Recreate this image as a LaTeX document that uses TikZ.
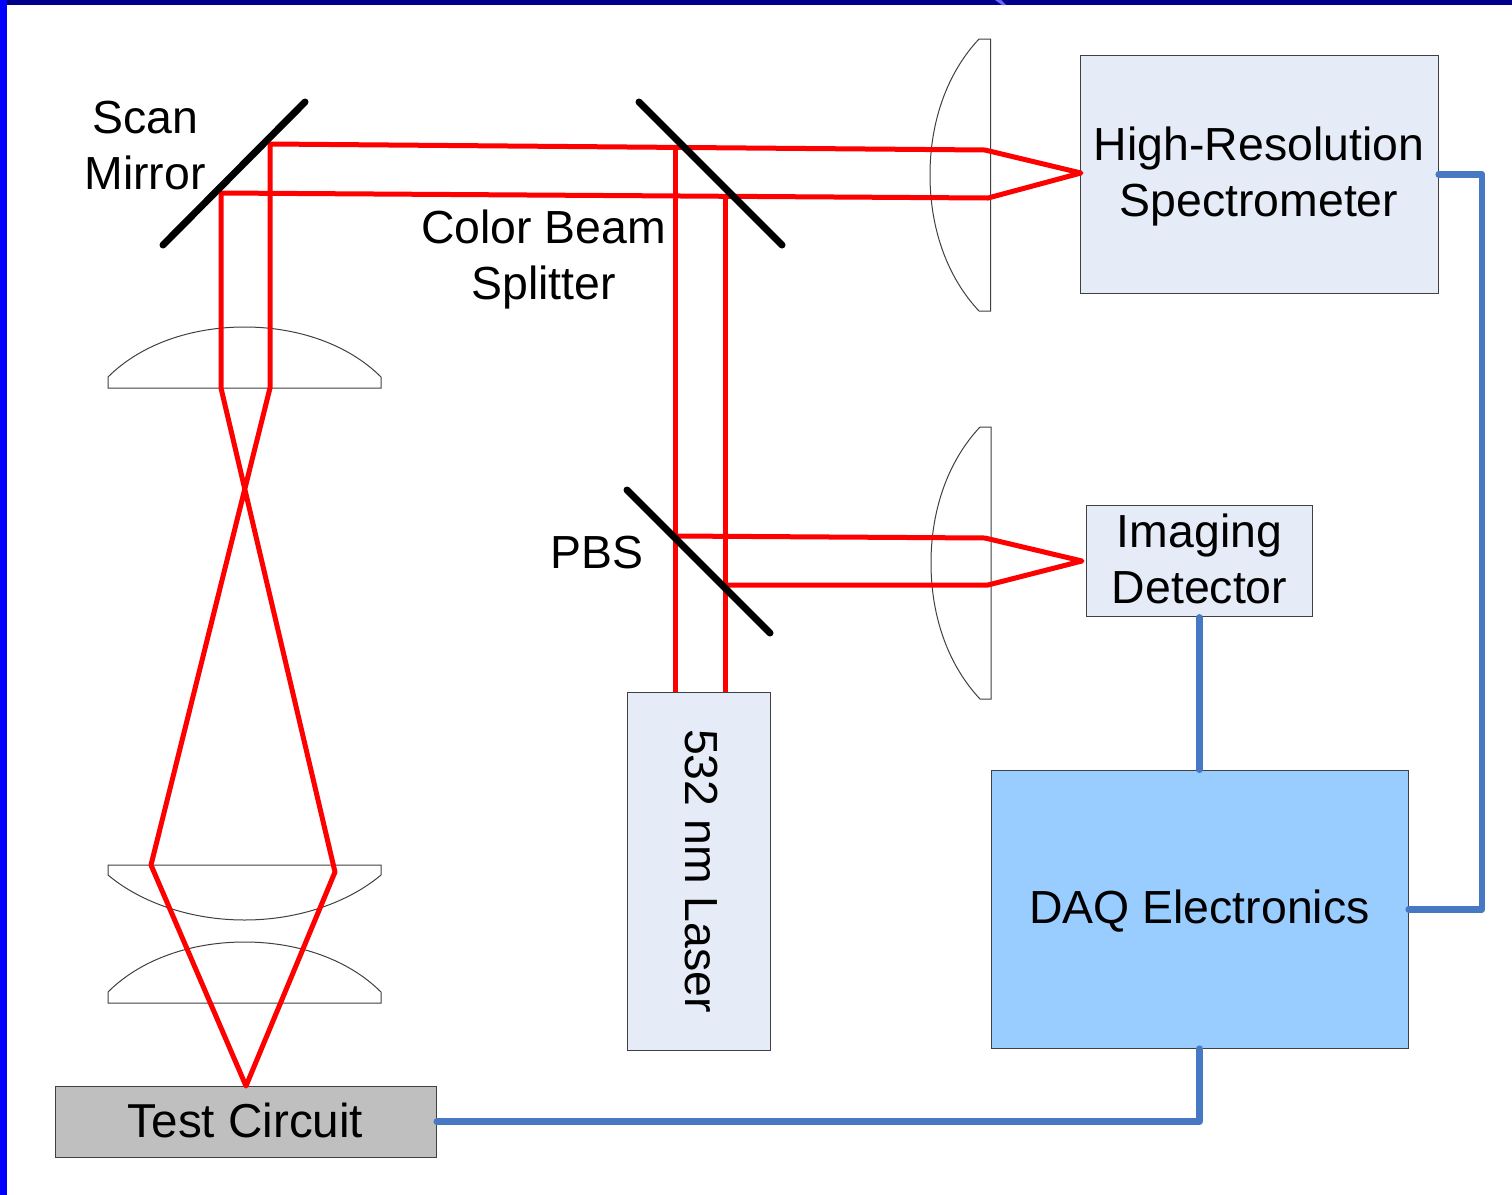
\documentclass[tikz,border=0pt]{standalone}
\usepackage{fontspec}
\setmainfont{Liberation Sans}
\definecolor{boxfill}{HTML}{E6ECF7}
\definecolor{daqfill}{HTML}{99CCFF}
\definecolor{testfill}{HTML}{BFBFBF}
\definecolor{wire}{HTML}{4678C4}
\definecolor{navybar}{HTML}{00008A}
\definecolor{edgegray}{HTML}{404040}
\tikzset{
  px/.style={x=0.5pt,y=-0.5pt},
  label/.style={inner sep=0pt,align=center,font=\fontsize{23.2}{28}\selectfont},
  boxn/.style={draw=edgegray,line width=0.5pt,inner sep=0pt,align=center},
  ray/.style={draw=red,line width=2.5pt,line join=round},
  mirror/.style={draw=black,line width=3.5pt,line cap=round},
  lens/.style={draw=edgegray,line width=0.5pt,fill=none},
  wirec/.style={draw=wire,line width=3.3pt,line cap=round,line join=round}
}
\begin{document}
\begin{tikzpicture}[px]
\useasboundingbox (0,0) rectangle (1512,1195);
\fill[white] (0,0) rectangle (1512,1195);
\fill[navybar] (0,0) rectangle (1512,5);
\fill[blue] (0,0) rectangle (7,1195);
\fill[blue!60!white] (995,0) -- (1001,0) -- (1006,5) -- (1002,5) -- cycle;

% lenses
\draw[lens] (108,388) -- (108,377) .. controls (140,345) and (190,327) .. (244.5,327) .. controls (299,327) and (349,345) .. (381,377) -- (381,388) -- cycle;
\draw[lens] (108,865) -- (108,875) .. controls (140,902) and (190,920) .. (244.5,920) .. controls (299,920) and (349,902) .. (381,875) -- (381,865) -- cycle;
\draw[lens] (108,1003) -- (108,992) .. controls (140,960) and (190,942) .. (244.5,942) .. controls (299,942) and (349,960) .. (381,992) -- (381,1003) -- cycle;
\draw[lens] (990.5,39) -- (979,39) .. controls (948,72) and (930,120) .. (930,175) .. controls (930,230) and (948,278) .. (979,311) -- (990.5,311) -- cycle;
\draw[lens] (991,427) -- (980,427) .. controls (949,460) and (931,508) .. (931,563) .. controls (931,618) and (949,666) .. (980,699) -- (991,699) -- cycle;

% boxes
\node[boxn,fill=boxfill,minimum width=179pt,minimum height=119pt] (spec) at (1259.2,174.2) {};
\node[label] (spect) at (1259,176.5) {High-Resolution\\Spectrometer};
\node[boxn,fill=boxfill,minimum width=113pt,minimum height=55.5pt] (imag) at (1199.2,561.4) {};
\node[label] (imagt) at (1199.5,559) {Imaging\\Detector};
\node[boxn,fill=daqfill,minimum width=208.5pt,minimum height=139pt] (daq) at (1199.7,909.2) {};
\node[label] (daqt) at (1199.5,911) {DAQ Electronics};
\node[boxn,fill=boxfill,minimum width=71.5pt,minimum height=179pt] (laser) at (698.8,871.2) {};
\node[label,rotate=-90] (lasert) at (701,871) {532 nm Laser};
\node[boxn,fill=testfill,minimum width=190.5pt,minimum height=35.5pt] (test) at (245.8,1121.7) {};
\node[label,font=\fontsize{23.8}{28}\selectfont] (testt) at (245.5,1120) {Test Circuit};

% ray points
\coordinate (a1) at (270,144);
\coordinate (a2) at (985,150);
\coordinate (f1) at (1081,173);
\coordinate (a3) at (988,198);
\coordinate (b1) at (221,193);
\coordinate (c1) at (270,388);
\coordinate (c2) at (221,388);
\coordinate (d1) at (151,865);
\coordinate (d2) at (335,872);
\coordinate (e) at (246,1086);
\coordinate (l1) at (675,692);
\coordinate (l2) at (675,147);
\coordinate (l3) at (725,692);
\coordinate (l4) at (725,196);
\coordinate (p1) at (675,536);
\coordinate (p2) at (985,538);
\coordinate (f2) at (1082,561);
\coordinate (p3) at (988,585);
\coordinate (p4) at (725,585);

% rays
\draw[ray] (e) -- (d1) -- (c1) -- (a1) -- (a2) -- (f1) -- (a3) -- (b1) -- (c2) -- (d2) -- cycle;
\draw[ray] (l1) -- (l2);
\draw[ray] (l3) -- (l4);
\draw[ray] (p1) -- (p2) -- (f2) -- (p3) -- (p4);

% mirrors
\coordinate (m1a) at (163,245);
\coordinate (m1b) at (305,102);
\coordinate (m2a) at (639,102);
\coordinate (m2b) at (782,245);
\coordinate (m3a) at (627,490);
\coordinate (m3b) at (770,633);
\draw[mirror] (m1a) -- (m1b);
\draw[mirror] (m2a) -- (m2b);
\draw[mirror] (m3a) -- (m3b);

% wires
\coordinate (bendr) at (1482,174.2);
\draw[wirec] (spec.east) -- (bendr) |- (daq.east);
\draw[wirec] (imag.south) -- (imag.south |- daq.north);
\draw[wirec] (daq.south) |- (test.east);

% labels
\node[label] (scan) at (145,145.5) {Scan\\Mirror};
\node[label] (cbs) at (543.5,259) {Color Beam\\Splitter};
\node[label] (pbs) at (597,553) {PBS};
\end{tikzpicture}
\end{document}
